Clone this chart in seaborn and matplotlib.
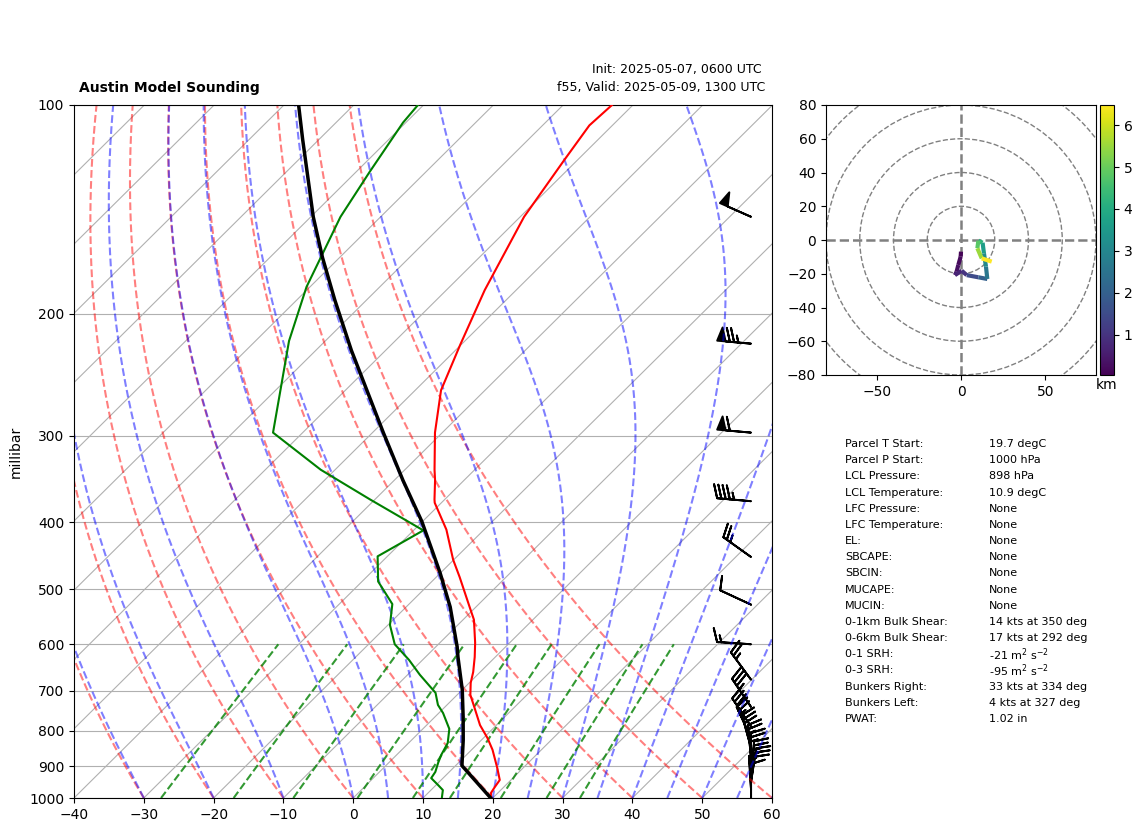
import numpy as np
import pandas as pd
import seaborn as sns
import matplotlib
matplotlib.use("Agg")
import matplotlib.pyplot as plt
from matplotlib.collections import LineCollection
from matplotlib.patches import Circle
from matplotlib.ticker import NullLocator, ScalarFormatter
from matplotlib.transforms import blended_transform_factory

# sounding
temp_p = [1000, 983, 964, 942, 905, 852, 819, 785, 739, 710, 682, 658, 626, 597, 553, 532, 480,
          453, 410, 375, 371, 348, 336, 297, 258, 222, 185, 145, 120, 107, 100]
temp_t = [19.7, 19.0, 18.7, 18.4, 16.3, 13.0, 10.55, 7.65, 4.2, 1.9, 0.2, -1.0, -2.95, -4.95, -8.45,
          -10.7, -16.65, -20.1, -25.4, -30.95, -31.45, -34.15, -35.75, -41.05, -46.3, -50.1, -54.5,
          -59.45, -61.9, -63.3, -63.0]
dewp_p = [1000, 974, 958, 936, 917, 890, 867, 833, 795, 754, 734, 705, 664, 632, 600, 563, 525,
          487, 448, 411, 371, 336, 297, 219, 183, 145, 125, 106, 100]
dewp_t = [12.7, 11.7, 10.3, 8.3, 8.0, 7.1, 6.4, 5.6, 3.8, 0.6, -1.3, -3.4, -8.25, -11.95, -16.25,
          -19.7, -22.4, -27.7, -31.4, -28.6, -40.65, -52.05, -64.25, -75.2, -80.5, -85.75, -88.05,
          -90.4, -90.8]
parcel_p = [1000, 898, 825, 764, 698, 626, 605, 530, 473, 399, 348, 297, 226, 191, 166, 145, 112, 100]
parcel_t = [19.7, 10.9, 7.4, 4.05, 0.0, -5.35, -6.95, -13.7, -20.1, -30.1, -38.75, -48.45, -64.9,
            -74.6, -82.45, -89.65, -102.4, -107.9]

# wind barbs (knots)
barb_p = [1000, 974, 948, 927, 902, 878, 847, 819, 789, 739, 675, 600, 526, 449, 373, 297, 221, 145]
barb_u = [0, 0.9, -4.5, -2.3, 0, 2.3, 8.0, 10.6, 16.6, 19.6, 14.8, 15, 9.05, 20.3, 44.8, 59.8, 74.7, 45.7]
barb_v = [-10, -15, -29.7, -24.9, -25, -24.9, -28.9, -22.7, -25, -29, -20.1, -1, -4.2, -14.5, -3.9, -5.3, -6.6, -20.2]

# hodograph
hodo_u = [0, -0.2, -1.6, -2.6, -3.6, 0.4, 3.4, 10.3, 15.6, 14.8, 13.6, 12.8, 10.3, 9.7, 12.3, 18.2]
hodo_v = [-6.9, -9.9, -14.8, -18.8, -20.8, -18.2, -20.8, -22.1, -23.1, -15.8, -7.9, -1.6, -0.4, -4.9, -10.9, -12.8]
hodo_z = [0.04, 0.1, 0.2, 0.3, 0.45, 0.7, 1.0, 1.5, 2.0, 2.6, 3.1, 3.6, 4.2, 4.8, 5.5, 6.48]

# background lines
dry_t0 = list(range(-40, 70, 10))
moist_t0 = [-40, -30, -20, -10, 0] + list(range(5, 65, 5))
mixing_w = [0.0004, 0.001, 0.002, 0.004, 0.007, 0.01, 0.016, 0.024, 0.032]
isotherm_t0 = list(range(-160, 70, 10))

p_ticks = [100, 200, 300, 400, 500, 600, 700, 800, 900, 1000]

param_names = ["Parcel T Start:", "Parcel P Start:", "LCL Pressure:", "LCL Temperature:", "LFC Pressure:",
               "LFC Temperature:", "EL:", "SBCAPE:", "SBCIN:", "MUCAPE:", "MUCIN:", "0-1km Bulk Shear:",
               "0-6km Bulk Shear:", "0-1 SRH:", "0-3 SRH:", "Bunkers Right:", "Bunkers Left:", "PWAT:"]
param_values = ["19.7 degC", "1000 hPa", "898 hPa", "10.9 degC", "None", "None", "None", "None", "None",
                "None", "None", "14 kts at 350 deg", "17 kts at 292 deg", r"-21 m$^2$ s$^{-2}$",
                r"-95 m$^2$ s$^{-2}$", "33 kts at 334 deg", "4 kts at 327 deg", "1.02 in"]

W, H = 1142, 832
SKEW = 1.008 * 693 / 6.98  # isotherms lean about 45 degrees on this axes


def skew_x(t, p):
    return np.asarray(t, dtype=float) + SKEW * np.log10(1000.0 / np.asarray(p, dtype=float))


def box(left, top, right, bottom):
    return [left / W, 1 - bottom / H, (right - left) / W, (bottom - top) / H]


def dry_adiabat(t0, p):
    return (t0 + 273.15) * (p / 1000.0) ** 0.2857 - 273.15


def moist_rate(t_k, p):
    tc = t_k - 273.15
    es = 6.112 * np.exp(17.67 * tc / (tc + 243.5))
    rs = 0.622 * es / (p - es)
    lv = 2.501e6
    rd = 287.05
    return (rd * t_k + lv * rs) / (1004.7 + lv ** 2 * rs * 0.622 / (rd * t_k ** 2)) / p


def moist_adiabat(t0, p):
    out = [t0 + 273.15]
    for a, b in zip(p[:-1], p[1:]):
        k = out[-1]
        mid = k + 0.5 * (b - a) * moist_rate(k, a)
        out.append(k + (b - a) * moist_rate(mid, 0.5 * (a + b)))
    return np.array(out) - 273.15


def mixing_dewpoint(w, p):
    e = p * w / (0.622 + w)
    ln_e = np.log(e / 6.112)
    return 243.5 * ln_e / (17.67 - ln_e)


fig = plt.figure(figsize=(W / 100, H / 100), dpi=100)
ax = fig.add_axes(box(74, 105, 772, 798))

levels = np.linspace(1000, 100, 400)
for t0 in isotherm_t0:
    ax.plot(skew_x(np.full(2, t0), [1000, 100]), [1000, 100], color="#b0b0b0", lw=0.8, zorder=1)
for t0 in dry_t0:
    ax.plot(skew_x(dry_adiabat(t0, levels), levels), levels, color="r", alpha=0.5, ls="--", lw=1.5, zorder=1.5)
for t0 in moist_t0:
    ax.plot(skew_x(moist_adiabat(t0, levels), levels), levels, color="b", alpha=0.5, ls="--", lw=1.5, zorder=1.5)
mix_levels = np.linspace(1000, 600, 50)
for w in mixing_w:
    ax.plot(skew_x(mixing_dewpoint(w, mix_levels), mix_levels), mix_levels, color="g", alpha=0.8, ls="--", lw=1.5, zorder=1.5)

for t, p, color, lw in [(temp_t, temp_p, "red", 1.5), (dewp_t, dewp_p, "green", 1.5), (parcel_t, parcel_p, "black", 2.5)]:
    df = pd.DataFrame({"x": skew_x(t, p), "p": p})
    sns.lineplot(data=df, x="x", y="p", sort=False, estimator=None, color=color, lw=lw, ax=ax, legend=False, zorder=3)

trans = blended_transform_factory(ax.transAxes, ax.transData)
ax.barbs(np.full(len(barb_p), 0.97), barb_p, barb_u, barb_v, transform=trans, clip_on=False, zorder=1.2, linewidth=1.4)

ax.set_yscale("log")
ax.set_xlim(-40, 60)
ax.set_ylim(1000, 100)
ax.set_xticks(np.arange(-40, 70, 10))
ax.set_yticks(p_ticks)
ax.yaxis.set_major_formatter(ScalarFormatter())
ax.yaxis.set_minor_locator(NullLocator())
ax.yaxis.grid(True, color="#b0b0b0", lw=0.8)
ax.set_axisbelow(True)
ax.set_xlabel("")
ax.set_ylabel("millibar")
ax.yaxis.set_label_coords(-0.073, 0.5)

# hodograph
hax = fig.add_axes(box(826, 105, 1096, 375))
for r in [20, 40, 60, 80, 100]:
    hax.add_patch(Circle((0, 0), r, fill=False, color="grey", ls="--", lw=1))
hax.axhline(0, color="grey", ls="--", lw=1.8)
hax.axvline(0, color="grey", ls="--", lw=1.8)
pts = np.column_stack([hodo_u, hodo_v]).reshape(-1, 1, 2)
segs = np.concatenate([pts[:-1], pts[1:]], axis=1)
lc = LineCollection(segs, cmap="viridis", linewidths=3, zorder=3)
lc.set_array(np.asarray(hodo_z[1:]))
lc.set_clim(min(hodo_z), max(hodo_z))
hax.add_collection(lc)
hax.set_xlim(-80, 80)
hax.set_ylim(-80, 80)
hax.set_xticks([-50, 0, 50])
hax.set_yticks(np.arange(-80, 100, 20))

cax = fig.add_axes(box(1100, 105, 1114, 375))
cbar = fig.colorbar(lc, cax=cax)
cbar.set_ticks([1, 2, 3, 4, 5, 6])
cax.set_xlabel("km", labelpad=2)

# titles
fig.text(79 / W, 1 - 88 / H, "Austin Model Sounding", fontsize=10, fontweight="bold", va="center")
fig.text(762 / W, 1 - 70 / H, "Init: 2025-05-07, 0600 UTC", fontsize=9, ha="right", va="center")
fig.text(765 / W, 1 - 88 / H, "f55, Valid: 2025-05-09, 1300 UTC", fontsize=9, ha="right", va="center")

# parcel table
for i, (name, value) in enumerate(zip(param_names, param_values)):
    y = 444 + i * 16.17
    fig.text(845 / W, 1 - y / H, name, fontsize=8, va="center")
    fig.text(989 / W, 1 - y / H, value, fontsize=8, va="center")

fig.savefig("out.png", dpi=100)
